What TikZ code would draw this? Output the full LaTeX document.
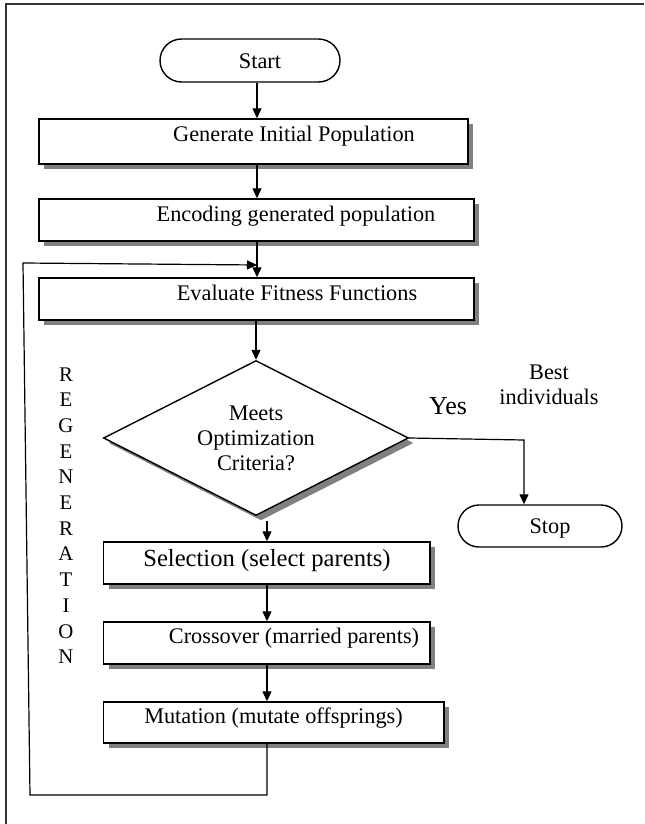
\documentclass[tikz,border=0pt]{standalone}
\usepackage{fontspec}
\setmainfont{Liberation Serif}
\usetikzlibrary{arrows.meta,shapes.geometric,shapes.misc,shadows,calc}

\begin{document}
\begin{tikzpicture}[x=0.5pt, y=-0.5pt, >={Triangle[length=5pt,width=4.5pt]}]
\tikzstyle{proc}=[rectangle,draw=black,line width=0.7pt,fill=white,inner sep=0pt,drop shadow={shadow xshift=2.5pt,shadow yshift=-2.5pt,fill=black!50,opacity=1}]
\tikzstyle{term}=[rounded rectangle,draw=black,line width=0.7pt,fill=white,inner sep=0pt]
\tikzstyle{dec}=[diamond,draw=black,line width=0.7pt,fill=white,inner sep=0pt,aspect=2,align=center,font=\fontsize{11.15}{12.5}\selectfont,drop shadow={shadow xshift=2.5pt,shadow yshift=-2.5pt,fill=black!50,opacity=1}]
\tikzstyle{txt}=[inner sep=0pt,anchor=base,font=\fontsize{11.15}{12.5}\selectfont]
\tikzstyle{flow}=[->,line width=0.6pt]
\useasboundingbox (0,0) rectangle (644,824);
\draw[line width=0.9pt,black!80] (644,4) -- (6,4) -- (6,824);
%
\node[term,minimum width=90pt,minimum height=21.5pt]    (start) at (250,60.5)    {};
\node[proc,minimum width=214.5pt,minimum height=22.5pt] (gen)   at (253.5,141.5) {};
\node[proc,minimum width=217.5pt,minimum height=21pt]   (enc)   at (256.5,220)   {};
\node[proc,minimum width=217.5pt,minimum height=21pt]   (eval)  at (256.5,299)   {};
\node[dec,minimum width=152.5pt,minimum height=77.5pt]  (dec)   at (256,438)     {Meets\\Optimization\\Criteria?};
\node[term,minimum width=82pt,minimum height=21pt]      (stop)  at (540,526)     {};
\node[proc,minimum width=163.25pt,minimum height=21pt]  (sel)   at (266.75,563)  {};
\node[proc,minimum width=163.25pt,minimum height=21pt]  (cross) at (266.75,643)  {};
\node[proc,minimum width=170.25pt,minimum height=20.5pt](mut)   at (273.75,722.5){};
%
\node[txt] (start-t) at (260,68.3)  {Start};
\node[txt] (gen-t)   at (294,141.7) {Generate Initial Population};
\node[txt] (enc-t)   at (296,221)   {Encoding generated population};
\node[txt] (eval-t)  at (297,300.7) {Evaluate Fitness Functions};
\node[txt] (stop-t)  at (550,533)   {Stop};
\node[txt,font=\fontsize{12.3}{14}\selectfont] (sel-t) at (267,566) {Selection (select parents)};
\node[txt] (cross-t) at (294,643.3) {Crossover (married parents)};
\node[txt] (mut-t)   at (273.5,723.3) {Mutation (mutate offsprings)};
\node[txt,font=\fontsize{13}{15}\selectfont] (yes) at (448,414) {Yes};
\node[txt,anchor=center,align=center] (best) at (549,385) {Best\\individuals};
\foreach \ch [count=\i] in {R,E,G,E,N,E,R,A,T,I,O,N}
  \node[txt,font=\fontsize{10.4}{12}\selectfont] (reg\i) at (66,{381+25.7*(\i-1)}) {\ch};
%
\coordinate (spine) at (257,0);
\coordinate (d1) at (267,521);
\coordinate (yc) at (524,440);
\coordinate (lb) at (267,795);
\coordinate (lc) at (30,795);
\coordinate (lt) at (23,263);
\coordinate (le) at (257,265);
%
\draw[flow] (start.south -| spine) -- (gen.north -| spine);
\draw[flow] (gen.south -| spine)   -- (enc.north -| spine);
\draw[flow] (enc.south -| spine)   -- (eval.north -| spine);
\draw[flow] (eval.south -| dec.north) -- (dec.north);
\draw[flow] (dec.east) -- (yc) -- (yc |- stop.north);
\draw[flow] (d1) -- (sel.north -| d1);
\draw[flow] (sel.south -| d1)   -- (cross.north -| d1);
\draw[flow] (cross.south -| d1) -- (mut.north -| d1);
\draw[flow] (mut.south -| lb) -- (lb) -- (lc) -- (lt) -- (le);
\end{tikzpicture}
\end{document}
